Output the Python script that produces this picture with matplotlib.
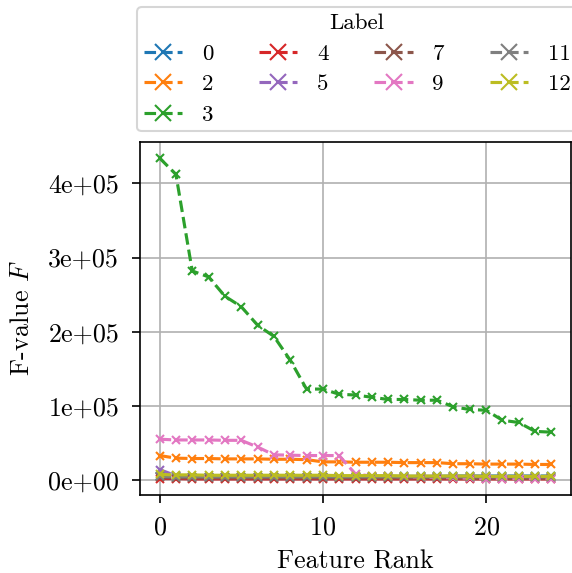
import matplotlib
matplotlib.use('Agg')
import matplotlib.pyplot as plt
from matplotlib.ticker import FuncFormatter

plt.rcParams['font.family'] = 'serif'
plt.rcParams['font.serif'] = ['cmr10']
plt.rcParams['mathtext.fontset'] = 'cm'
plt.rcParams['axes.unicode_minus'] = False
plt.rcParams['axes.formatter.use_mathtext'] = True

rank = list(range(25))
labels = ['0', '2', '3', '4', '5', '7', '9', '11', '12']

f_0 = [6000, 5500, 5000, 5000, 5000, 5000, 5000, 5000, 5000, 5000, 5000, 5000, 5000,
       5000, 5500, 5500, 5500, 5500, 6000, 6000, 6000, 6000, 6000, 6000, 6000]
f_2 = [33500, 30000, 29500, 29500, 29000, 29000, 29000, 28500, 28500, 28000, 25000, 25000, 24500,
       24500, 24500, 24000, 24000, 24000, 22500, 22500, 22000, 22000, 22000, 21500, 21500]
f_3 = [434000, 412000, 282000, 274000, 248000, 234000, 209000, 194000, 162000, 123000, 123000,
       116000, 115000, 112000, 109000, 109000, 108000, 108000, 99000, 95500, 94500, 81000,
       78000, 66000, 65000]
f_4 = [2500, 2500, 2000, 2000, 2000, 2000, 2000, 2000, 2000, 2000, 2000, 2000, 2000,
       2000, 2000, 2000, 2000, 2000, 2000, 2000, 2000, 2000, 2000, 2000, 2000]
f_5 = [14500, 6500, 4500, 4000, 4000, 4000, 4000, 4000, 4000, 4000, 4000, 4000, 4000,
       4000, 4000, 4000, 4000, 4000, 4000, 4000, 4000, 4000, 4000, 4000, 4000]
f_7 = [4000, 3500, 3500, 3500, 3500, 3500, 3500, 3500, 3500, 3500, 3500, 3500, 3500,
       3500, 3500, 3500, 3500, 3500, 3500, 3000, 3000, 3000, 3000, 3000, 3000]
f_9 = [55500, 54500, 54500, 54500, 54000, 54000, 45000, 34500, 34000, 33500, 33500, 33500, 8500,
       6000, 5500, 5000, 4500, 4000, 3500, 3000, 2500, 2500, 2500, 2500, 2500]
f_11 = [5500, 5000, 5000, 5000, 5000, 5000, 5000, 5000, 5000, 5000, 5000, 5000, 5000,
        5000, 5000, 5000, 5000, 5000, 5000, 5000, 5000, 5000, 5000, 5000, 5000]
f_12 = [8000, 7500, 7500, 7000, 7000, 7000, 7000, 7000, 7000, 7000, 7000, 6500, 6500,
        6500, 6500, 6000, 6000, 6000, 6000, 6000, 5500, 5500, 5500, 5500, 5500]

series = [f_0, f_2, f_3, f_4, f_5, f_7, f_9, f_11, f_12]
colors = ['tab:blue', 'tab:orange', 'tab:green', 'tab:red', 'tab:purple',
          'tab:brown', 'tab:pink', 'tab:gray', 'tab:olive']

fig = plt.figure(figsize=(572 / 150, 573 / 150), dpi=150)
ax = fig.add_axes([140 / 572, 1 - 495 / 573, 431 / 572, 353 / 573])

for lab, vals, c in zip(labels, series, colors):
    ax.plot(rank, vals, '--', marker='x', color=c, markersize=4, label=lab)

ax.grid(True)
ax.set_xticks([0, 10, 20])
ax.set_yticks([0, 100000, 200000, 300000, 400000])
ax.yaxis.set_major_formatter(FuncFormatter(lambda v, p: '%.0e' % v))
ax.tick_params(labelsize=12.5, pad=6, length=4)
ax.set_xlabel('Feature Rank', fontsize=12.5, labelpad=5)
ax.set_ylabel('F-value $F$', fontsize=12.5, labelpad=7)

ax.legend(title='Label', ncol=4, loc='lower left', bbox_to_anchor=(-0.007, 1.03),
          fontsize=11, title_fontsize=11, columnspacing=2.0, handlelength=1.66,
          handletextpad=0.87, labelspacing=0.45, borderpad=0.3, markerscale=1.9,
          borderaxespad=0)

fig.savefig('out.png', dpi=150)
